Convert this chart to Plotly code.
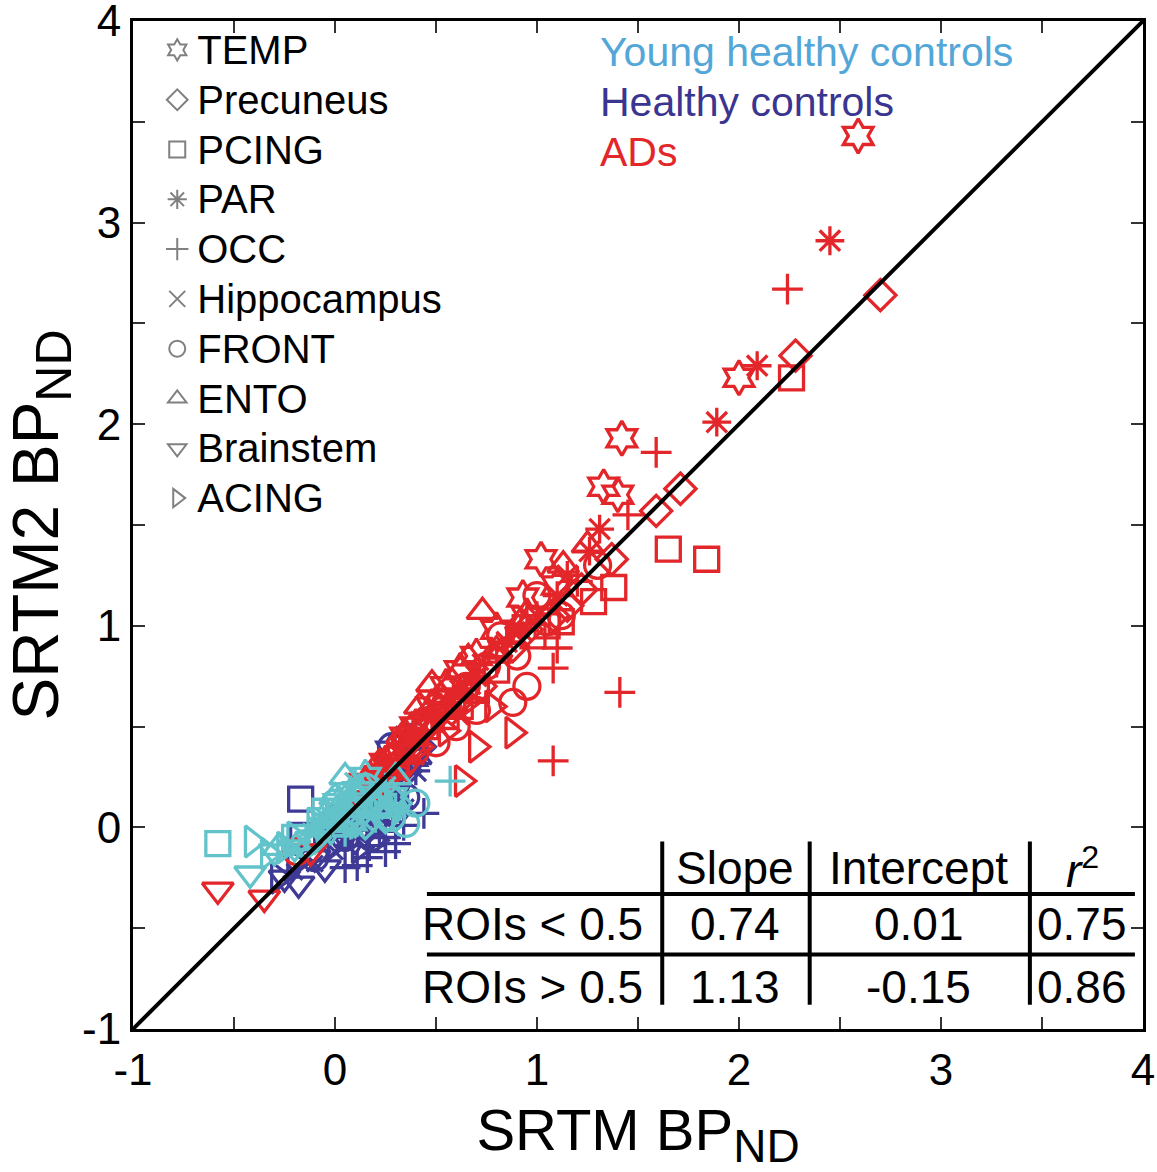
import plotly.graph_objects as go

# ---------------- data ----------------
rois = ["TEMP", "Precuneus", "PCING", "PAR", "OCC", "Hippocampus",
        "FRONT", "ENTO", "Brainstem", "ACING"]
groups = ["Young healthy controls", "Healthy controls", "ADs"]

# ADs (x = SRTM BPnd, y = SRTM2 BPnd)
ad_temp_x = [2.59, 2.00, 1.42, 1.33, 1.40, 1.02, 0.93, 0.80, 0.62, 0.48, 0.35, 0.70, 0.55, 0.25, 0.95, 1.10, 0.40, 0.15]
ad_temp_y = [3.43, 2.23, 1.93, 1.69, 1.65, 1.33, 1.14, 0.98, 0.78, 0.60, 0.45, 0.85, 0.70, 0.32, 1.05, 1.20, 0.50, 0.22]
ad_prec_x = [2.70, 2.28, 1.71, 1.59, 1.37, 1.22, 1.08, 0.88, 0.72, 0.60, 0.45, 0.30, 0.95, 0.52, 1.15, 0.20]
ad_prec_y = [2.64, 2.34, 1.68, 1.57, 1.33, 1.18, 1.05, 0.90, 0.70, 0.62, 0.50, 0.35, 0.98, 0.58, 1.10, 0.22]
ad_pcing_x = [2.26, 1.65, 1.84, 1.38, 1.28, 1.12, 0.98, 0.80, 0.62, 0.45, 0.30, 1.05, 0.70, 0.55, 0.20]
ad_pcing_y = [2.23, 1.38, 1.33, 1.19, 1.12, 1.02, 0.95, 0.78, 0.60, 0.50, 0.30, 1.00, 0.68, 0.55, 0.20]
ad_par_x = [2.45, 2.09, 1.89, 1.31, 1.26, 1.15, 1.00, 0.85, 0.70, 0.55, 0.40, 0.25, 1.10, 0.92, 0.62, 0.48, 0.32, 0.15]
ad_par_y = [2.91, 2.29, 2.01, 1.48, 1.37, 1.25, 1.05, 0.92, 0.75, 0.62, 0.45, 0.30, 1.15, 0.98, 0.68, 0.55, 0.40, 0.20]
ad_occ_x = [2.24, 1.59, 1.45, 1.10, 1.08, 1.41, 1.08, 0.95, 0.80, 0.62, 0.45, 0.30, 0.70, 0.52, 1.20, 0.20]
ad_occ_y = [2.67, 1.86, 1.55, 0.89, 0.79, 0.67, 0.33, 1.05, 0.82, 0.65, 0.48, 0.32, 0.72, 0.55, 1.22, 0.18]
ad_hip_x = [0.90, 0.72, 0.58, 0.45, 0.35, 0.25, 0.15, 0.40, 0.62, 0.80, 0.50, 0.30, 0.68, 0.20, 0.10]
ad_hip_y = [0.98, 0.82, 0.62, 0.55, 0.45, 0.30, 0.18, 0.35, 0.55, 0.90, 0.60, 0.38, 0.70, 0.22, 0.12]
ad_front_x = [1.30, 1.12, 0.95, 0.88, 0.82, 0.70, 0.60, 0.50, 0.40, 0.30, 0.20, -0.19, 1.00, 0.75,
              0.65, 0.55, 0.45, 0.90, 1.05, 0.35, 0.25]
ad_front_y = [1.30, 1.05, 0.70, 0.62, 0.95, 0.58, 0.50, 0.42, 0.38, 0.30, 0.18, -0.12, 1.15, 0.80,
              0.70, 0.62, 0.52, 0.85, 1.02, 0.42, 0.25]
ad_ento_x = [0.73, 0.48, 1.13, 0.66, 0.46, 0.92, 0.58, 0.38, 0.28, 0.18, 0.80, 1.25, 0.52, 0.33, 0.62, 0.42, 0.22]
ad_ento_y = [1.07, 0.71, 1.30, 0.84, 0.57, 1.02, 0.72, 0.50, 0.35, 0.25, 0.88, 1.40, 0.65, 0.45, 0.78, 0.60, 0.32]
ad_brain_x = [-0.58, -0.35, -0.12, 0.08, 0.22, 0.35]
ad_brain_y = [-0.31, -0.35, -0.12, 0.05, 0.18, 0.30]
ad_acing_x = [0.88, 0.63, 0.78, 0.55, 0.42, 0.30, 0.18, 0.65, 0.48, 0.70]
ad_acing_y = [0.47, 0.23, 0.60, 0.48, 0.40, 0.28, 0.15, 0.62, 0.52, 0.40]

# Healthy controls
hc_temp_x = [0.15, 0.30, 0.05, 0.22, 0.38, 0.28, 0.10]
hc_temp_y = [0.12, 0.25, 0.02, 0.15, 0.35, 0.38, -0.05]
hc_prec_x = [0.35, 0.10, 0.25, -0.05, 0.42]
hc_prec_y = [0.28, 0.05, 0.12, -0.02, 0.40]
hc_pcing_x = [-0.17, -0.16, 0.02, 0.18, 0.30]
hc_pcing_y = [0.14, -0.04, 0.05, 0.10, 0.20]
hc_par_x = [0.30, 0.15, 0.40, 0.05, 0.22, 0.35]
hc_par_y = [0.20, 0.05, 0.28, -0.05, -0.02, 0.45]
hc_occ_x = [0.44, 0.34, 0.17, 0.16, 0.11, 0.25, 0.25, 0.30, 0.05]
hc_occ_y = [0.07, 0.01, -0.09, -0.15, -0.19, -0.05, -0.12, -0.08, -0.20]
hc_hip_x = [0.10, 0.00, 0.25, -0.10, -0.20, 0.35, 0.30]
hc_hip_y = [-0.05, -0.12, 0.05, -0.18, -0.22, 0.10, 0.05]
hc_front_x = [0.20, 0.05, -0.10, 0.35, 0.28, 0.18, 0.40]
hc_front_y = [0.08, -0.05, -0.15, 0.15, 0.40, -0.05, 0.45]
hc_ento_x = [0.25, 0.40, -0.05, 0.12]
hc_ento_y = [0.20, 0.35, 0.02, 0.10]
hc_brain_x = [-0.25, -0.10, 0.05, 0.30, -0.18, -0.05]
hc_brain_y = [-0.25, -0.15, -0.05, 0.05, -0.28, -0.20]
hc_acing_x = [-0.20, 0.00, 0.20, 0.32, -0.28, 0.12]
hc_acing_y = [-0.18, -0.08, 0.02, 0.10, -0.25, -0.10]

# Young healthy controls
yc_temp_x = [0.02, 0.12, -0.05, 0.20, 0.08, 0.28, 0.15, -0.02]
yc_temp_y = [0.12, 0.18, 0.05, 0.10, 0.03, 0.15, 0.25, 0.00]
yc_prec_x = [0.10, 0.25, -0.10, 0.15, 0.30, 0.02]
yc_prec_y = [0.15, 0.05, -0.05, 0.02, 0.12, 0.08]
yc_pcing_x = [-0.58, -0.05, 0.12, 0.05, -0.20]
yc_pcing_y = [-0.08, 0.08, 0.14, 0.02, -0.05]
yc_par_x = [0.05, 0.18, -0.08, 0.30, 0.10, 0.25, 0.00]
yc_par_y = [0.10, 0.15, 0.00, 0.10, 0.22, 0.20, 0.05]
yc_occ_x = [0.57, 0.20, 0.05]
yc_occ_y = [0.23, 0.05, -0.02]
yc_hip_x = [-0.20, -0.05, 0.10, 0.20, 0.05, 0.15, -0.12]
yc_hip_y = [-0.10, 0.05, 0.00, 0.08, 0.12, 0.02, -0.02]
yc_front_x = [0.00, 0.15, 0.28, -0.15, 0.35, 0.22, 0.08, 0.40]
yc_front_y = [0.12, 0.20, 0.05, -0.08, 0.02, 0.12, 0.08, 0.12]
yc_ento_x = [0.15, 0.00, 0.30, -0.28, 0.08, 0.20, 0.05]
yc_ento_y = [0.20, 0.15, 0.25, -0.10, 0.18, 0.10, 0.25]
yc_brain_x = [-0.42, -0.30, -0.20, 0.10, -0.12]
yc_brain_y = [-0.23, -0.12, -0.10, 0.02, -0.06]
yc_acing_x = [-0.41, -0.25, -0.10, 0.08, -0.33, -0.20]
yc_acing_y = [-0.07, -0.10, 0.02, 0.05, -0.13, -0.05]

identity_line = [-1, 4]

tick_vals = [-1, 0, 1, 2, 3, 4]
tick_text = ["-1", "0", "1", "2", "3", "4"]

table_cols = ["Slope", "Intercept", "<i>r</i><sup>2</sup>"]
table_rows = ["ROIs &lt; 0.5", "ROIs &gt; 0.5"]
slopes = ["0.74", "1.13"]
intercepts = ["0.01", "-0.15"]
r2_vals = ["0.75", "0.86"]

# ---------------- styles ----------------
symbols = ["hexagram-open", "diamond-open", "square-open", "asterisk-open",
           "cross-thin-open", "x-thin-open", "circle-open", "triangle-up-open",
           "triangle-down-open", "triangle-right-open"]
sizes = [26, 24, 24, 24, 22, 16, 26, 27, 27, 27]
group_colors = {"Young healthy controls": "#62C4CA", "Healthy controls": "#3E3A96", "ADs": "#E3262A"}
label_colors = {"Young healthy controls": "#53A7D8", "Healthy controls": "#3A3590", "ADs": "#E3262A"}

data_by_group = {
    "ADs": [(ad_temp_x, ad_temp_y), (ad_prec_x, ad_prec_y), (ad_pcing_x, ad_pcing_y),
            (ad_par_x, ad_par_y), (ad_occ_x, ad_occ_y), (ad_hip_x, ad_hip_y),
            (ad_front_x, ad_front_y), (ad_ento_x, ad_ento_y), (ad_brain_x, ad_brain_y),
            (ad_acing_x, ad_acing_y)],
    "Healthy controls": [(hc_temp_x, hc_temp_y), (hc_prec_x, hc_prec_y), (hc_pcing_x, hc_pcing_y),
                         (hc_par_x, hc_par_y), (hc_occ_x, hc_occ_y), (hc_hip_x, hc_hip_y),
                         (hc_front_x, hc_front_y), (hc_ento_x, hc_ento_y), (hc_brain_x, hc_brain_y),
                         (hc_acing_x, hc_acing_y)],
    "Young healthy controls": [(yc_temp_x, yc_temp_y), (yc_prec_x, yc_prec_y), (yc_pcing_x, yc_pcing_y),
                               (yc_par_x, yc_par_y), (yc_occ_x, yc_occ_y), (yc_hip_x, yc_hip_y),
                               (yc_front_x, yc_front_y), (yc_ento_x, yc_ento_y), (yc_brain_x, yc_brain_y),
                               (yc_acing_x, yc_acing_y)],
}

fig = go.Figure()

# legend entries (gray symbols)
for roi, sym in zip(rois, symbols):
    fig.add_trace(go.Scatter(
        x=[None], y=[None], mode="markers",
        name=f"<span style='font-size:40px'>{roi}</span>", showlegend=True,
        marker=dict(symbol=sym, size=16, color="#808080",
                    line=dict(color="#808080", width=2))))

# data (drawing order: healthy controls, ADs, young healthy controls)
for grp in ["Healthy controls", "ADs", "Young healthy controls"]:
    col = group_colors[grp]
    for roi, sym, sz, (xs, ys) in zip(rois, symbols, sizes, data_by_group[grp]):
        fig.add_trace(go.Scatter(
            x=xs, y=ys, mode="markers", showlegend=False, name=f"{grp} {roi}",
            marker=dict(symbol=sym, size=sz, color=col,
                        line=dict(color=col, width=3.3))))

# identity line
fig.add_trace(go.Scatter(x=identity_line, y=identity_line, mode="lines",
                         showlegend=False, line=dict(color="black", width=4)))

# group labels
for i, grp in enumerate(groups):
    fig.add_annotation(xref="paper", yref="paper", x=0.460, y=0.969 - i * 0.0496,
                       xanchor="left", yanchor="middle", showarrow=False,
                       text=grp, font=dict(family="Liberation Sans, Arial", size=41,
                                           color=label_colors[grp]))

# table
tfont = dict(family="Liberation Sans, Arial", size=46, color="black")
col_x = [1.98, 2.89, 3.70]
row_y = [-0.48, -0.79]
for cx, t in zip(col_x, table_cols):
    fig.add_annotation(x=cx, y=-0.20, text=t, showarrow=False, font=tfont,
                       xanchor="center", yanchor="middle")
for ry, rl, s, it, r2 in zip(row_y, table_rows, slopes, intercepts, r2_vals):
    for cx, t in zip([0.98] + col_x, [rl, s, it, r2]):
        fig.add_annotation(x=cx, y=ry, text=t, showarrow=False, font=tfont,
                           xanchor="center", yanchor="middle")
for hy in [-0.33, -0.63]:
    fig.add_shape(type="line", x0=0.455, x1=3.96, y0=hy, y1=hy,
                  line=dict(color="black", width=4))
for vx in [1.62, 2.35, 3.44]:
    fig.add_shape(type="line", x0=vx, x1=vx, y0=-0.07, y1=-0.88,
                  line=dict(color="black", width=4))

axis_common = dict(
    range=[-1, 4], tickvals=tick_vals, ticktext=tick_text, automargin=False,
    ticklabeloverflow="allow",
    ticks="inside", ticklen=12, tickwidth=1.5, tickcolor="#333",
    minor=dict(dtick=0.5, ticks="inside", ticklen=12, tickwidth=1.5, tickcolor="#333"),
    showline=True, linecolor="black", linewidth=3, mirror="ticks",
    showgrid=False, zeroline=False,
    tickfont=dict(family="Liberation Sans, Arial", size=44, color="black"),
)

fig.update_layout(
    width=1157, height=1172,
    margin=dict(l=133, r=14, t=21, b=143),
    paper_bgcolor="white", plot_bgcolor="white",
    xaxis=dict(**axis_common,
               title=dict(text="SRTM BP<sub><span style='font-size:46px'>ND</span></sub>", standoff=38,
                          font=dict(family="Liberation Sans, Arial", size=58, color="black"))),
    yaxis=dict(**axis_common,
               title=dict(text="SRTM2 BP<sub><span style='font-size:50px'>ND</span></sub>", standoff=10,
                          font=dict(family="Liberation Sans, Arial", size=64, color="black"))),
    legend=dict(x=0.024, y=1.001, xanchor="left", yanchor="top",
                bgcolor="rgba(0,0,0,0)", borderwidth=0,
                font=dict(family="Liberation Sans, Arial", size=36, color="black"),
                itemwidth=30, tracegroupgap=0),
    showlegend=True,
)

# remove the default page margin so the figure fills the 1157x1172 window exactly
fig.write_html("out.html",
               config={"displayModeBar": False},
               post_script="document.body.style.margin='0';"
                           "document.documentElement.style.overflow='hidden';")
